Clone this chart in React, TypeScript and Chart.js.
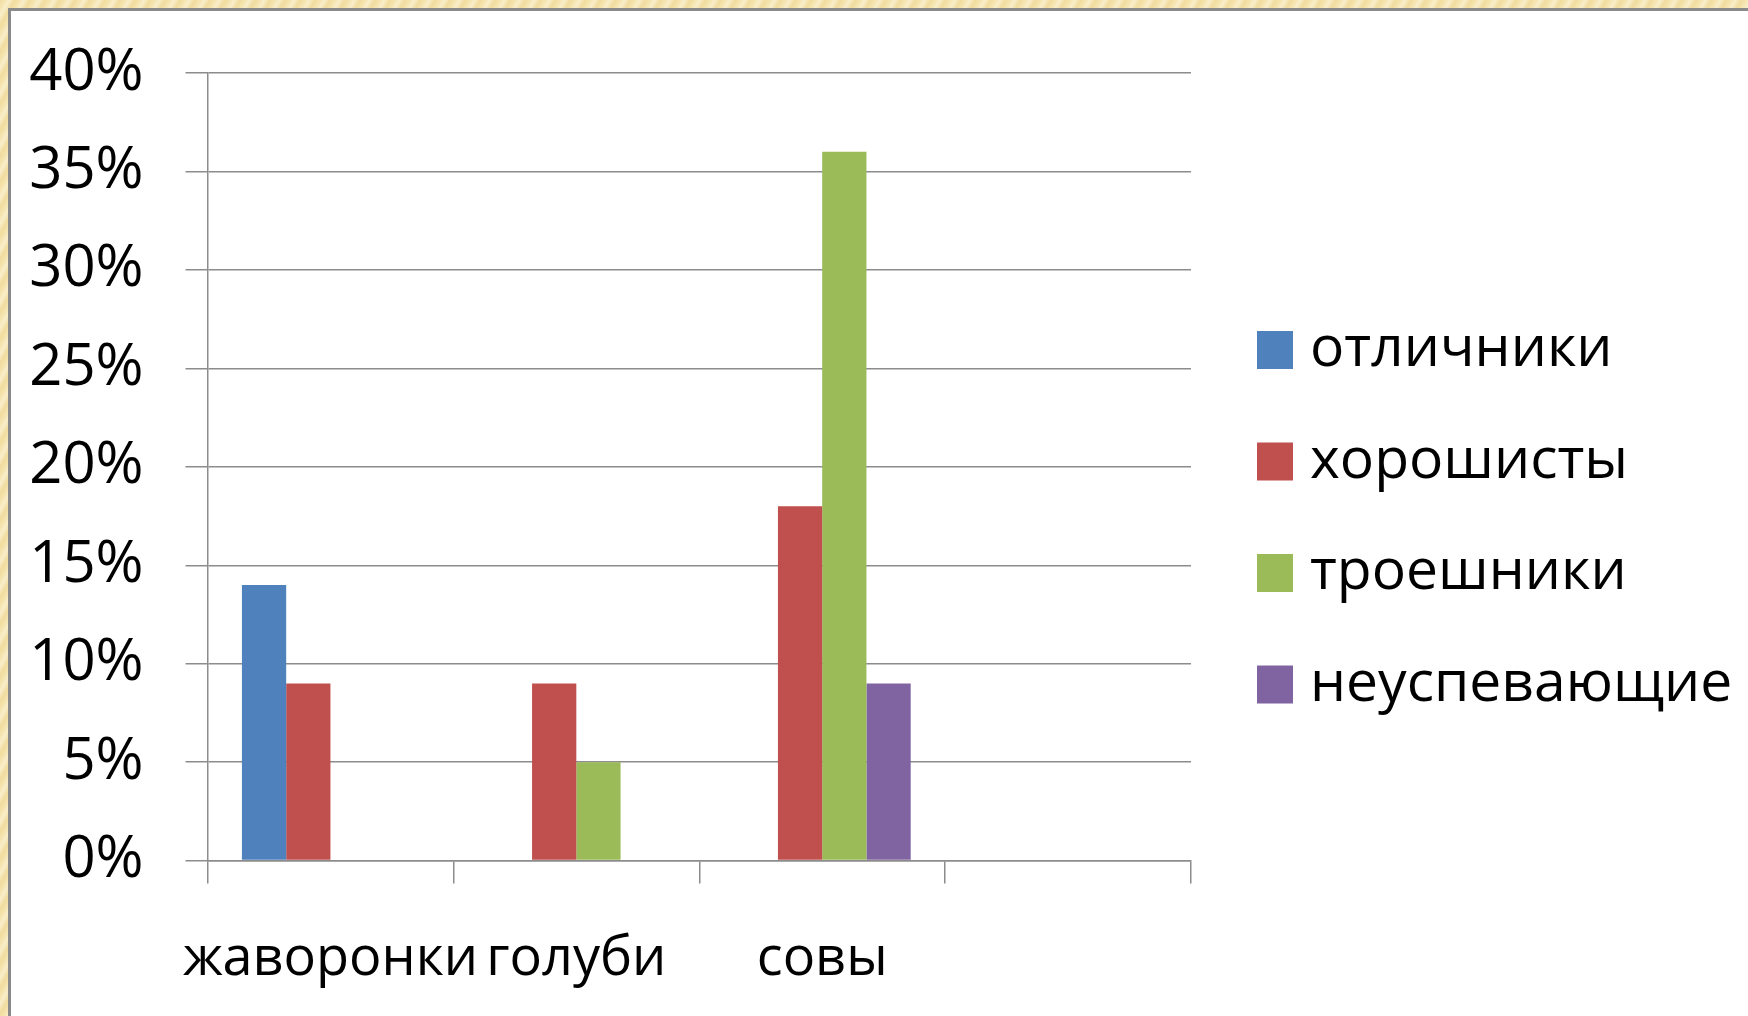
import React, { useEffect, useRef } from "react";
import { Chart, registerables } from "chart.js";

Chart.register(...registerables);

const categories = ["жаворонки", "голуби", "совы", ""];
const seriesNames = ["отличники", "хорошисты", "троешники", "неуспевающие"];
const excellent = [14, 0, 0, null];
const good = [9, 9, 18, null];
const satisfactory = [0, 5, 36, null];
const failing = [0, 0, 9, null];
const seriesColors = ["#4F81BD", "#C0504D", "#9BBB59", "#8064A2"];
const yTicks = [0, 5, 10, 15, 20, 25, 30, 35, 40];

const W = 1748;
const H = 1016;
const FONT = '"Open Sans", "Noto Sans", sans-serif';
const GRID = "#8c8c8c";

const sideLegend = {
  id: "sideLegend",
  afterDraw(chart: any) {
    const { ctx, chartArea } = chart;
    ctx.save();
    chart.data.datasets.forEach((ds: any, i: number) => {
      const cy = 350 + i * 111.5;
      const x = chartArea.right + 66;
      ctx.fillStyle = ds.backgroundColor;
      ctx.fillRect(x, cy - 19, 36, 38);
      ctx.fillStyle = "#000";
      ctx.font = `57px ${FONT}`;
      ctx.textBaseline = "middle";
      ctx.textAlign = "left";
      ctx.fillText(ds.label, x + 53, cy);
    });
    ctx.restore();
  },
};

export default function App() {
  const ref = useRef<HTMLCanvasElement>(null);

  useEffect(() => {
    if (!ref.current) return;
    const values = [excellent, good, satisfactory, failing];
    const chart = new Chart(ref.current, {
      type: "bar",
      data: {
        labels: categories,
        datasets: seriesNames.map((name, i) => ({
          label: name,
          data: values[i],
          backgroundColor: seriesColors[i],
          borderWidth: 0,
          barPercentage: 1,
          categoryPercentage: 0.72,
        })),
      },
      plugins: [sideLegend],
      options: {
        responsive: false,
        animation: false,
        devicePixelRatio: 1,
        layout: { padding: { top: 73, left: 0, right: 557, bottom: 0 } },
        plugins: {
          legend: { display: false },
          tooltip: { enabled: false },
          title: { display: false },
        },
        scales: {
          x: {
            grid: {
              display: true,
              drawOnChartArea: false,
              drawTicks: true,
              tickLength: 23,
              color: GRID,
              lineWidth: 1.5,
              offset: true,
            },
            border: { display: true, color: GRID, width: 1.5 },
            ticks: {
              color: "#000",
              font: { family: FONT, size: 54 },
              maxRotation: 0,
              minRotation: 0,
              autoSkip: false,
              padding: 44,
            },
            afterFit: (scale: any) => {
              scale.height = 155.4;
              scale.paddingLeft = 0;
              scale.paddingRight = 0;
            },
          },
          y: {
            min: 0,
            max: 40,
            grid: {
              color: GRID,
              lineWidth: 1.5,
              drawTicks: true,
              tickLength: 22,
            },
            border: { display: true, color: GRID, width: 1.5 },
            afterBuildTicks: (scale: any) => {
              scale.ticks = yTicks.map((v) => ({ value: v }));
            },
            ticks: {
              color: "#000",
              font: { family: FONT, size: 58 },
              padding: 42,
              callback: (v: any) => `${v}%`,
            },
            afterFit: (scale: any) => {
              scale.width = 207.5;
              scale.paddingTop = 0;
              scale.paddingBottom = 0;
            },
          },
        },
      },
    });
    return () => chart.destroy();
  }, []);

  return (
    <div
      style={{
        position: "fixed",
        left: 0,
        top: 0,
        width: W,
        height: H,
        overflow: "hidden",
        background:
          "repeating-linear-gradient(120deg, #f1dc9e 0px, #f6e6b3 5px, #f9eecb 8px, #f1dc9e 13px)",
      }}
    >
      <div
        style={{
          position: "absolute",
          left: 8,
          top: 8,
          right: 0,
          bottom: 0,
          background: "#ffffff",
          borderTop: "3px solid #8a8a8a",
          borderLeft: "3px solid #8a8a8a",
        }}
      />
      <canvas
        ref={ref}
        width={W}
        height={H}
        style={{ position: "absolute", left: 0, top: 0, width: W, height: H }}
      />
    </div>
  );
}
